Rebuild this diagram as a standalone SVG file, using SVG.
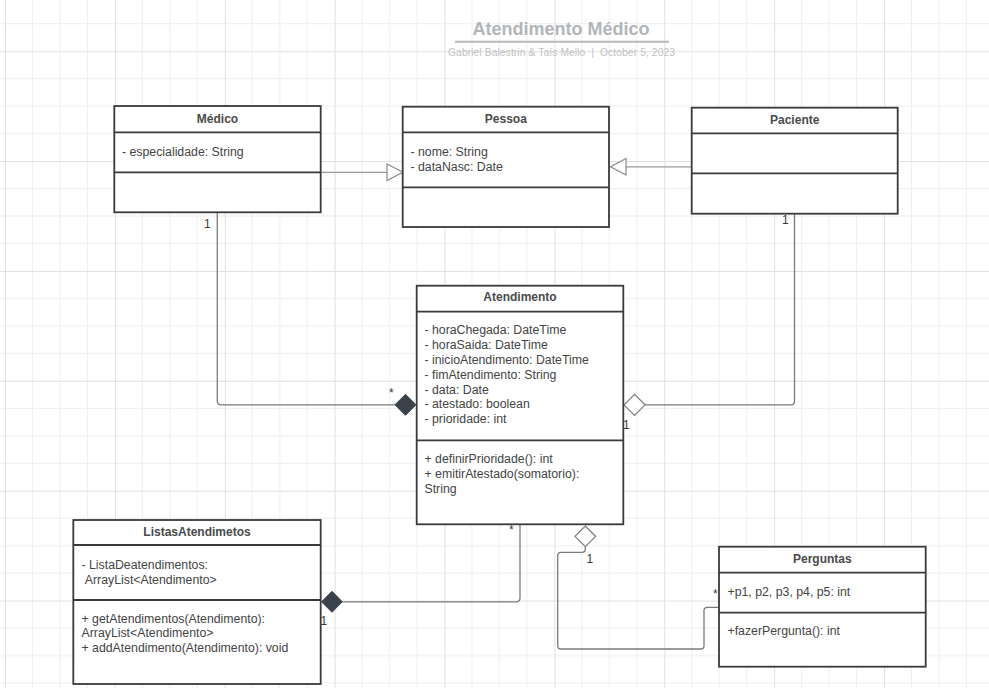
<svg xmlns="http://www.w3.org/2000/svg" width="989" height="688" viewBox="0 0 989 688">
<style>
.box{fill:#ffffff;stroke:#3a3a3a;stroke-width:1.8}
.div{stroke:#3a3a3a;stroke-width:1.8}
.hdr{font-family:"Liberation Sans",Arial,sans-serif;font-size:12px;font-weight:bold;fill:#4a4a4a;text-anchor:middle}
.txt{font-family:"Liberation Sans",Arial,sans-serif;font-size:12.3px;fill:#444444}
.lbl{font-family:"Liberation Sans",Arial,sans-serif;font-size:12px;fill:#3a3a3a}
.conn{fill:none;stroke:#7a7a7a;stroke-width:1.3}
.gen{fill:none;stroke:#9a9a9a;stroke-width:1.3}
.tri{fill:#ffffff;stroke:#8a8a8a;stroke-width:1.2}
.fdia{fill:#3a414a;stroke:#3a414a;stroke-width:1}
.hdia{fill:#ffffff;stroke:#7a7a7a;stroke-width:1.2}
.gm{stroke:#eeeeee;stroke-width:1}
.gM{stroke:#e0e0e0;stroke-width:1}
</style>
<defs>
<pattern id="grid" x="5" y="51.2" width="109.88" height="109.88" patternUnits="userSpaceOnUse">
<line class="gm" x1="27.47" y1="0" x2="27.47" y2="109.88"/>
<line class="gm" x1="54.94" y1="0" x2="54.94" y2="109.88"/>
<line class="gm" x1="82.41" y1="0" x2="82.41" y2="109.88"/>
<line class="gm" x1="0" y1="27.47" x2="109.88" y2="27.47"/>
<line class="gm" x1="0" y1="54.94" x2="109.88" y2="54.94"/>
<line class="gm" x1="0" y1="82.41" x2="109.88" y2="82.41"/>
<line class="gM" x1="0.5" y1="0" x2="0.5" y2="109.88"/>
<line class="gM" x1="0" y1="0.5" x2="109.88" y2="0.5"/>
</pattern>
</defs>
<rect x="0" y="0" width="989" height="688" fill="#ffffff"/>
<rect x="0" y="0" width="989" height="688" fill="url(#grid)"/>

<g id="title">
<text x="561" y="35" font-family="Liberation Sans,Arial,sans-serif" font-size="18" font-weight="bold" fill="#b2b5ba" text-anchor="middle">Atendimento Médico</text>
<line x1="455" y1="41.7" x2="669" y2="41.7" stroke="#b6b9be" stroke-width="2"/>
<text x="448" y="56" font-family="Liberation Sans,Arial,sans-serif" font-size="10.3" fill="#c2c2c2" xml:space="preserve" textLength="227" lengthAdjust="spacing">Gabriel Balestrin &amp; Taís Mello  |  October 5, 2023</text>
</g>

<g id="connectors">
<path class="gen" d="M321,172.3 H387"/>
<polygon class="tri" points="387,164 403,172.3 387,180.6"/>
<path class="gen" d="M691,166.8 H626"/>
<polygon class="tri" points="626,158.5 610.5,166.8 626,175.1"/>

<path class="conn" d="M217.3,213 V401 Q217.3,404.8 221,404.8 H395"/>
<polygon class="fdia" points="416,404.8 405.5,394.3 395,404.8 405.5,415.3"/>
<text class="lbl" x="204" y="228">1</text>
<text class="lbl" x="389" y="397">*</text>

<path class="conn" d="M794.5,214 V401 Q794.5,404.8 791,404.8 H645"/>
<polygon class="hdia" points="624,404.8 634.5,394.3 645,404.8 634.5,415.3"/>
<text class="lbl" x="782" y="224">1</text>
<text class="lbl" x="623" y="429">1</text>

<path class="conn" d="M520,525 V598 Q520,601.8 516,601.8 H342.3"/>
<polygon class="fdia" points="321.5,601.8 332,591.3 342.3,601.8 332,612.3"/>
<text class="lbl" x="509" y="534">*</text>
<text class="lbl" x="320.5" y="625">1</text>

<path class="conn" d="M585.3,547 V549 Q585.3,552.3 582,552.3 H561 Q557.7,552.3 557.7,555.6 V645.7 Q557.7,649 561,649 H700.7 Q704,649 704,645.7 V610.6 Q704,607.3 707.3,607.3 H719"/>
<polygon class="hdia" points="585.3,526 595.6,536.3 585.3,546.7 575,536.3"/>
<text class="lbl" x="586.5" y="563">1</text>
<text class="lbl" x="713" y="598">*</text>
</g>

<g id="medico">
<rect class="box" x="114.3" y="106" width="206.4" height="106.3"/>
<line class="div" x1="114.3" y1="132.3" x2="320.7" y2="132.3"/>
<line class="div" x1="114.3" y1="172.3" x2="320.7" y2="172.3"/>
<text class="hdr" x="217.5" y="123">Médico</text>
<text class="txt" x="122" y="156">- especialidade: String</text>
</g>

<g id="pessoa">
<rect class="box" x="402.7" y="106.7" width="206.3" height="120.3"/>
<line class="div" x1="402.7" y1="132.3" x2="609" y2="132.3"/>
<line class="div" x1="402.7" y1="187.3" x2="609" y2="187.3"/>
<text class="hdr" x="505.8" y="123">Pessoa</text>
<text class="txt" x="410.5" y="155.5">- nome: String</text>
<text class="txt" x="410.5" y="170.5">- dataNasc: Date</text>
</g>

<g id="paciente">
<rect class="box" x="691.7" y="107.7" width="206" height="106"/>
<line class="div" x1="691.7" y1="133.3" x2="897.7" y2="133.3"/>
<line class="div" x1="691.7" y1="173.3" x2="897.7" y2="173.3"/>
<text class="hdr" x="794.7" y="124">Paciente</text>
</g>

<g id="atendimento">
<rect class="box" x="416.7" y="285.7" width="206.6" height="238.6"/>
<line class="div" x1="416.7" y1="311.7" x2="623.3" y2="311.7"/>
<line class="div" x1="416.7" y1="440.3" x2="623.3" y2="440.3"/>
<text class="hdr" x="520" y="301">Atendimento</text>
<text class="txt" x="424.5" y="334.3">- horaChegada: DateTime</text>
<text class="txt" x="424.5" y="349.1">- horaSaida: DateTime</text>
<text class="txt" x="424.5" y="363.9">- inicioAtendimento: DateTime</text>
<text class="txt" x="424.5" y="378.7">- fimAtendimento: String</text>
<text class="txt" x="424.5" y="393.5">- data: Date</text>
<text class="txt" x="424.5" y="408.3">- atestado: boolean</text>
<text class="txt" x="424.5" y="423.1">- prioridade: int</text>
<text class="txt" x="424.5" y="463.3">+ definirPrioridade(): int</text>
<text class="txt" x="424.5" y="478.1">+ emitirAtestado(somatorio):</text>
<text class="txt" x="424.5" y="492.9">String</text>
</g>

<g id="listasatendimetos">
<rect class="box" x="73.3" y="520" width="247.4" height="164"/>
<line class="div" x1="73.3" y1="545" x2="320.7" y2="545"/>
<line class="div" x1="73.3" y1="600" x2="320.7" y2="600"/>
<text class="hdr" x="197" y="536">ListasAtendimetos</text>
<text class="txt" x="81.5" y="569">- ListaDeatendimentos:</text>
<text class="txt" x="84.8" y="584">ArrayList&lt;Atendimento&gt;</text>
<text class="txt" x="81.5" y="622.5">+ getAtendimentos(Atendimento):</text>
<text class="txt" x="81.5" y="637.3">ArrayList&lt;Atendimento&gt;</text>
<text class="txt" x="81.5" y="652">+ addAtendimento(Atendimento): void</text>
</g>

<g id="perguntas">
<rect class="box" x="719" y="546.7" width="206.7" height="120"/>
<line class="div" x1="719" y1="572.7" x2="925.7" y2="572.7"/>
<line class="div" x1="719" y1="612.7" x2="925.7" y2="612.7"/>
<text class="hdr" x="822.3" y="562.5">Perguntas</text>
<text class="txt" x="727.5" y="596">+p1, p2, p3, p4, p5: int</text>
<text class="txt" x="727.5" y="635">+fazerPergunta(): int</text>
</g>
</svg>
